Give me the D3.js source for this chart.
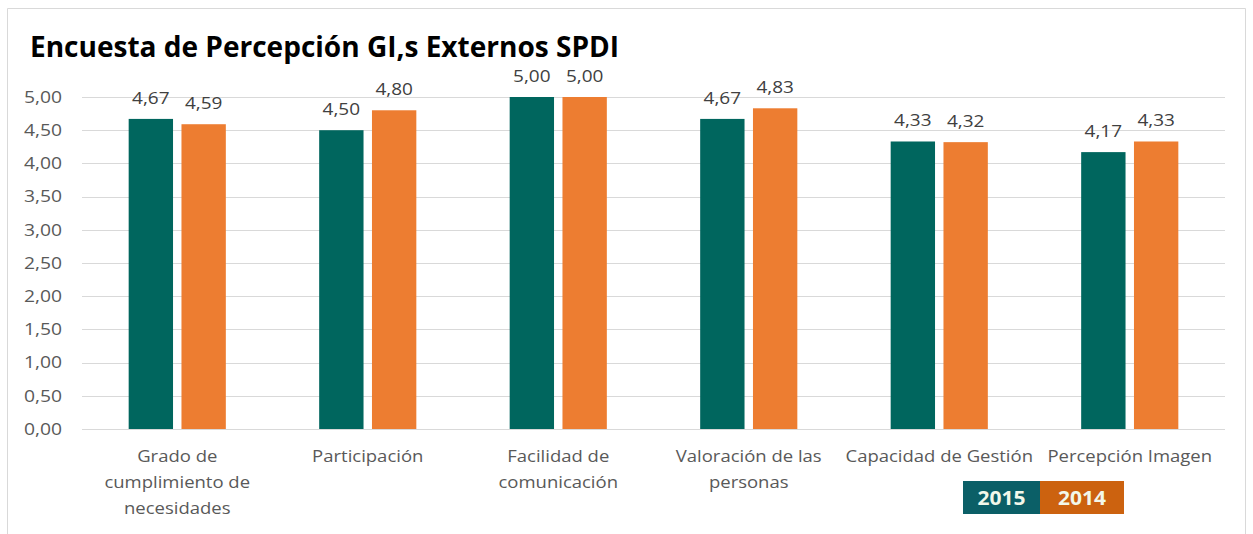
<!DOCTYPE html>
<html>
<head>
<meta charset="utf-8">
<script src="https://cdn.jsdelivr.net/npm/d3@7"></script>
<style>
  body { margin: 0; background: #fff; }
  text { font-family: "Open Sans", sans-serif; }
  .grid line { stroke: #d9d9d9; }
</style>
</head>
<body>
<div id="chart"></div>
<script>
// data
var categories = [
    "Grado de\ncumplimiento de\nnecesidades",
    "Participación",
    "Facilidad de\ncomunicación",
    "Valoración de las\npersonas",
    "Capacidad de Gestión",
    "Percepción Imagen"
];
var series = ["2015", "2014"];
var values2015 = [4.67, 4.50, 5.00, 4.67, 4.33, 4.17];
var values2014 = [4.59, 4.80, 5.00, 4.83, 4.32, 4.33];
var yTicks = [0, 0.5, 1, 1.5, 2, 2.5, 3, 3.5, 4, 4.5, 5];

var barColors = { "2015": "#00665e", "2014": "#ed7d31" };
var legendColors = { "2015": "#0b5f67", "2014": "#cc620f" };

var W = 1253, H = 534;
var margin = { top: 97, right: 28, bottom: 105, left: 82 };

// the source text is a bit wider than open sans, stretch it sideways
function stretch(sel, k) {
    sel.each(function() {
        var len = this.getComputedTextLength();
        d3.select(this)
            .attr("textLength", len * k)
            .attr("lengthAdjust", "spacingAndGlyphs");
    });
}

var svg = d3.select("#chart")
    .append("svg")
    .attr("width", W)
    .attr("height", H);

// outer frame
svg.append("path")
    .attr("d", "M7.5," + H + "V8.5H1245.5V" + H)
    .attr("fill", "none")
    .attr("stroke", "#d9d9d9");

var x0 = d3.scaleBand()
    .domain(categories)
    .range([margin.left, W - margin.right])
    .paddingInner(0.49)
    .paddingOuter(0.245);

var x1 = d3.scaleBand()
    .domain(series)
    .range([0, x0.bandwidth()])
    .paddingInner(0.16);

var y = d3.scaleLinear()
    .domain([0, 5])
    .range([H - margin.bottom, margin.top]);

var fmt = function(v) { return d3.format(".2f")(v).replace(".", ","); };

// gridlines
svg.append("g")
    .attr("class", "grid")
    .selectAll("line")
    .data(yTicks)
    .enter().append("line")
    .attr("x1", margin.left)
    .attr("x2", W - margin.right)
    .attr("y1", function(d) { return Math.round(y(d)) + 0.5; })
    .attr("y2", function(d) { return Math.round(y(d)) + 0.5; });

// y axis labels
var yAxis = svg.append("g")
    .attr("transform", "translate(" + (margin.left - 20) + ",0)")
    .call(d3.axisLeft(y).tickValues(yTicks).tickSize(0).tickFormat(fmt));
yAxis.select(".domain").remove();
yAxis.selectAll("text")
    .attr("x", 0)
    .style("font-family", "Open Sans")
    .style("font-size", "16.5px")
    .style("fill", "#595959")
    .call(stretch, 1.17);

var rows = categories.map(function(c, i) {
    return { cat: c, vals: [values2015[i], values2014[i]] };
});

var groups = svg.selectAll(".group")
    .data(rows)
    .enter().append("g")
    .attr("class", "group")
    .attr("transform", function(d) { return "translate(" + x0(d.cat) + ",0)"; });

var bars = groups.selectAll(".bar")
    .data(function(d) { return d.vals.map(function(v, j) { return { s: series[j], v: v }; }); })
    .enter();

bars.append("rect")
    .attr("x", function(d) { return x1(d.s); })
    .attr("width", x1.bandwidth())
    .attr("y", function(d) { return y(d.v); })
    .attr("height", function(d) { return y(0) - y(d.v); })
    .attr("fill", function(d) { return barColors[d.s]; });

// value labels
bars.append("text")
    .attr("x", function(d) { return x1(d.s) + x1.bandwidth() / 2; })
    .attr("y", function(d) { return y(d.v) - 15; })
    .attr("text-anchor", "middle")
    .style("font-size", "16.5px")
    .style("fill", "#404040")
    .text(function(d) { return fmt(d.v); })
    .call(stretch, 1.15);

// category labels
var catLabels = svg.selectAll(".cat")
    .data(categories)
    .enter().append("text")
    .attr("class", "cat")
    .attr("text-anchor", "middle")
    .attr("x", function(d) { return x0(d) + x0.bandwidth() / 2; })
    .attr("y", H - margin.bottom + 33)
    .style("font-size", "16.5px")
    .style("fill", "#595959");

catLabels.selectAll("tspan")
    .data(function(d) { return d.split("\n"); })
    .enter().append("tspan")
    .attr("x", function() { var p = this.parentNode.__data__; return x0(p) + x0.bandwidth() / 2; })
    .attr("dy", function(d, i) { return i ? 26 : 0; })
    .text(function(d) { return d; })
    .call(stretch, 1.12);

// title
svg.append("text")
    .attr("x", 30)
    .attr("y", 57)
    .style("font-size", "28px")
    .style("font-weight", "bold")
    .style("fill", "#000")
    .attr("textLength", 589)
    .attr("lengthAdjust", "spacingAndGlyphs")
    .text("Encuesta de Percepción GI,s Externos SPDI");

// legend boxes
var legendX = d3.scaleOrdinal()
    .domain(series)
    .range([963, 1040]);
var legendW = { "2015": 77, "2014": 84 };

var legend = svg.selectAll(".legend")
    .data(series)
    .enter().append("g")
    .attr("class", "legend")
    .attr("transform", function(d) { return "translate(" + legendX(d) + ",481)"; });

legend.append("rect")
    .attr("width", function(d) { return legendW[d]; })
    .attr("height", 33)
    .attr("fill", function(d) { return legendColors[d]; });

legend.append("text")
    .attr("x", function(d) { return legendW[d] / 2; })
    .attr("y", 24)
    .attr("text-anchor", "middle")
    .style("font-size", "20px")
    .style("font-weight", "bold")
    .style("fill", "#f2f8ea")
    .text(function(d) { return d; })
    .call(stretch, 1.05);
</script>
</body>
</html>
